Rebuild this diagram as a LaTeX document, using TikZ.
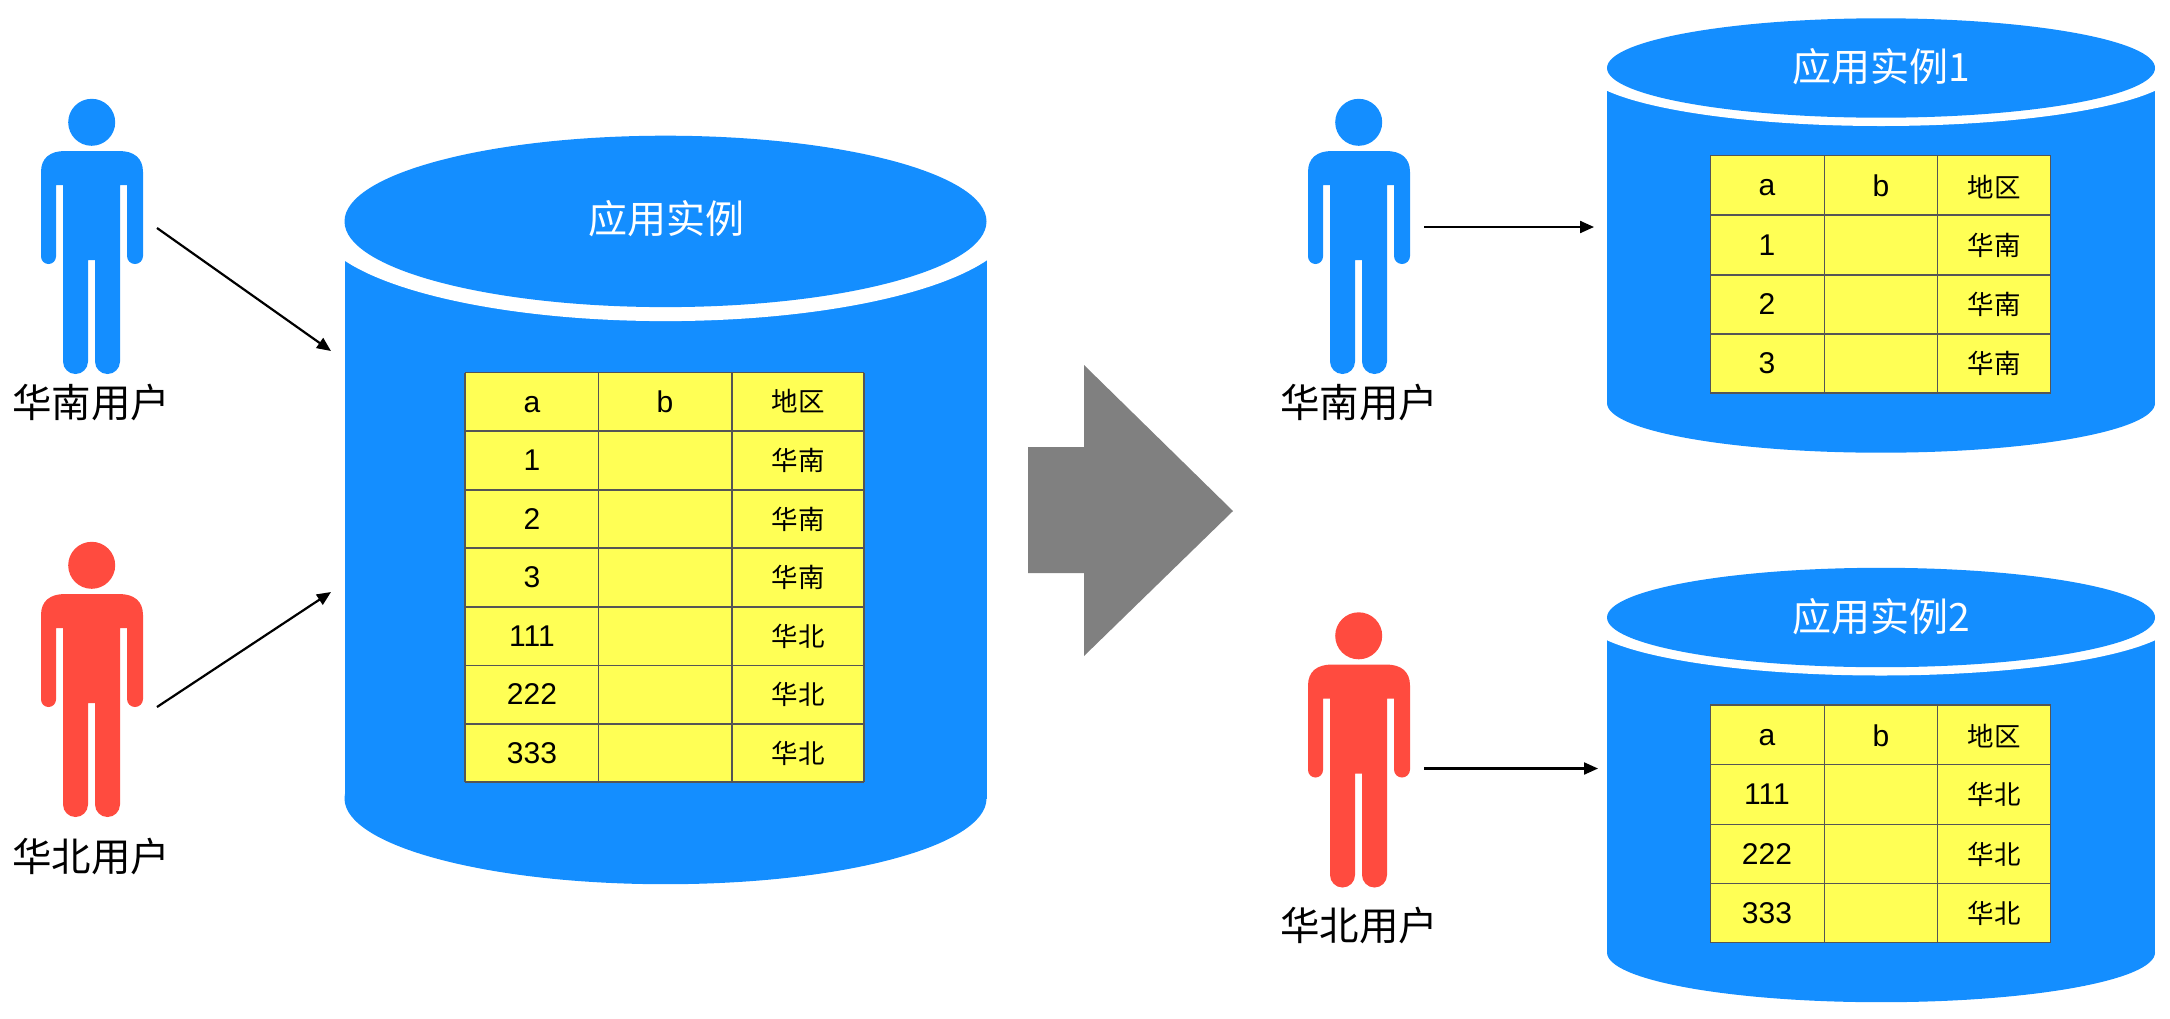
\documentclass[tikz,border=0pt]{standalone}
\usepackage{fontspec}
\setmainfont{Liberation Sans}
\newfontfamily\cjk{Noto Sans CJK SC}
\usetikzlibrary{arrows.meta}
\definecolor{dbblue}{HTML}{148EFF}
\definecolor{dbred}{HTML}{FF4B3F}
\definecolor{dbyellow}{HTML}{FFFF55}
\definecolor{dbgrid}{HTML}{555555}
\definecolor{dbgray}{HTML}{808080}
\tikzset{
  flow/.style={draw=black,line width=2.2pt,-{Triangle[length=14pt,width=12pt]}},
  bigtext/.style={font=\cjk\fontsize{39.5}{40}\selectfont,inner sep=0pt},
  titletext/.style={font=\cjk\fontsize{39}{39}\selectfont,inner sep=0pt,text=white},
  celltext/.style={font=\fontsize{30}{30}\selectfont,inner sep=0pt},
  cellcjk/.style={font=\cjk\fontsize{26.5}{27}\selectfont,inner sep=0pt},
  grid/.style={draw=dbgrid,line width=1.2pt},
}
% #1 name, #2 dx, #3 dy, #4 colour
\newcommand\PersonFig[4]{%
  \begin{scope}[shift={(#2,#3)}]
    \node[circle,fill=#4,inner sep=0pt,minimum size=47pt] (#1) at (91.7,122.3) {};
    \fill[#4] (41,172) .. controls (41,158) and (50,151) .. (65,151)
      -- (119,151) .. controls (134,151) and (143,158) .. (143,172)
      -- (143,256) arc[start angle=0,end angle=180,radius=8]
      -- (127,185) -- (120,185) -- (120,361.5)
      arc[start angle=0,end angle=180,radius=12.5]
      -- (95,260) -- (88,260) -- (88,361.5)
      arc[start angle=0,end angle=180,radius=12.5]
      -- (63,185) -- (56,185) -- (56,256.5)
      arc[start angle=0,end angle=180,radius=7.5] -- cycle;
  \end{scope}}
% #1 xmid, #2 rx, #3 top-ellipse cy, #4 ry, #5 gap, #6 bottom-ellipse cy
\newcommand\DbBody[6]{%
  \fill[dbblue] (#1-#2,#3) rectangle (#1+#2,#6);
  \fill[dbblue] (#1,#6) ellipse[x radius=#2,y radius=#4];
  \fill[white] (#1,#3) ellipse[x radius=1.087*#2,y radius=#4+#5];
  \fill[dbblue] (#1,#3) ellipse[x radius=#2,y radius=#4];}
% four x lines, then ytop, ybottom
\newcommand\GridLines[6]{%
  \fill[dbyellow] (#1,#5) rectangle (#4,#6);
  \foreach \gx in {#1,#2,#3,#4} \draw[grid] (\gx,#5) -- (\gx,#6);}
\begin{document}
\begin{tikzpicture}[x=1pt,y=-1pt]
\useasboundingbox (0,0) rectangle (2170,1018);
% Large database
\DbBody{665.5}{321}{221.4}{85.7}{14}{798.5}
\node[titletext] (bigtitle) at (666.5,219) {应用实例};
\GridLines{465}{598.5}{732}{864}{372.5}{782}
\foreach \gy in {372.5,431,490,548,607,665.5,724,782} \draw[grid] (465,\gy) -- (864,\gy);
\node[celltext] (b0a) at (532,405) {a};
\node[celltext] (b0b) at (665,401.5) {b};
\node[cellcjk] (b0c) at (798,401.5) {地区};
\node[celltext] (b1a) at (532,460.5) {1};
\node[cellcjk] (b1c) at (798,460.5) {华南};
\node[celltext] (b2a) at (532,519) {2};
\node[cellcjk] (b2c) at (798,519) {华南};
\node[celltext] (b3a) at (532,577.5) {3};
\node[cellcjk] (b3c) at (798,577.5) {华南};
\node[celltext] (b4a) at (532,636) {111};
\node[cellcjk] (b4c) at (798,636) {华北};
\node[celltext] (b5a) at (532,694.5) {222};
\node[cellcjk] (b5c) at (798,694.5) {华北};
\node[celltext] (b6a) at (532,753) {333};
\node[cellcjk] (b6c) at (798,753) {华北};
% Right database 1
\DbBody{1881}{274}{68}{49.7}{8.3}{403}
\node[titletext] (r1title) at (1881,67) {应用实例1};
\GridLines{1710.2}{1824.6}{1937.8}{2050.6}{155.5}{393}
\foreach \gy in {155.5,215,275,334,393} \draw[grid] (1710.2,\gy) -- (2050.6,\gy);
\node[celltext] (ra0a) at (1767,188) {a};
\node[celltext] (ra0b) at (1881,186) {b};
\node[cellcjk] (ra0c) at (1994,187) {地区};
\node[celltext] (ra1a) at (1767,245) {1};
\node[cellcjk] (ra1c) at (1994,245) {华南};
\node[celltext] (ra2a) at (1767,304.5) {2};
\node[cellcjk] (ra2c) at (1994,304.5) {华南};
\node[celltext] (ra3a) at (1767,363.5) {3};
\node[cellcjk] (ra3c) at (1994,363.5) {华南};
% Right database 2
\DbBody{1881}{274}{617.5}{49.7}{8.3}{952.5}
\node[titletext] (r2title) at (1881,617) {应用实例2};
\GridLines{1710.2}{1824.6}{1937.8}{2050.6}{705}{942.5}
\foreach \gy in {705,764.5,824.5,883.5,942.5} \draw[grid] (1710.2,\gy) -- (2050.6,\gy);
\node[celltext] (rb0a) at (1767,738) {a};
\node[celltext] (rb0b) at (1881,736) {b};
\node[cellcjk] (rb0c) at (1994,736.5) {地区};
\node[celltext] (rb1a) at (1767,794.5) {111};
\node[cellcjk] (rb1c) at (1994,794.5) {华北};
\node[celltext] (rb2a) at (1767,854) {222};
\node[cellcjk] (rb2c) at (1994,854) {华北};
\node[celltext] (rb3a) at (1767,913) {333};
\node[cellcjk] (rb3c) at (1994,913) {华北};
% People
\PersonFig{pa}{0}{0}{dbblue}
\PersonFig{pb}{0}{443}{dbred}
\PersonFig{pc}{1267}{0}{dbblue}
\PersonFig{pd}{1267}{513.5}{dbred}
\node[bigtext] (la) at (91.5,403) {华南用户};
\node[bigtext] (lb) at (91.5,856) {华北用户};
\node[bigtext] (lc) at (1359,403) {华南用户};
\node[bigtext] (ld) at (1359,925) {华北用户};
% Transition arrow
\fill[dbgray] (1028,447) -- (1084,447) -- (1084,365) -- (1233,511) -- (1084,656) -- (1084,573) -- (1028,573) -- cycle;
% Connectors
\coordinate (a1s) at (157,228); \coordinate (a1e) at (331,351);
\coordinate (a2s) at (157,707); \coordinate (a2e) at (331,592);
\coordinate (a3s) at (1424,227); \coordinate (a3e) at (1594,227);
\coordinate (a4s) at (1424,768.5); \coordinate (a4e) at (1598,768.5);
\draw[flow] (a1s) -- (a1e);
\draw[flow] (a2s) -- (a2e);
\draw[flow] (a3s) -- (a3e);
\draw[flow] (a4s) -- (a4e);
\end{tikzpicture}
\end{document}
